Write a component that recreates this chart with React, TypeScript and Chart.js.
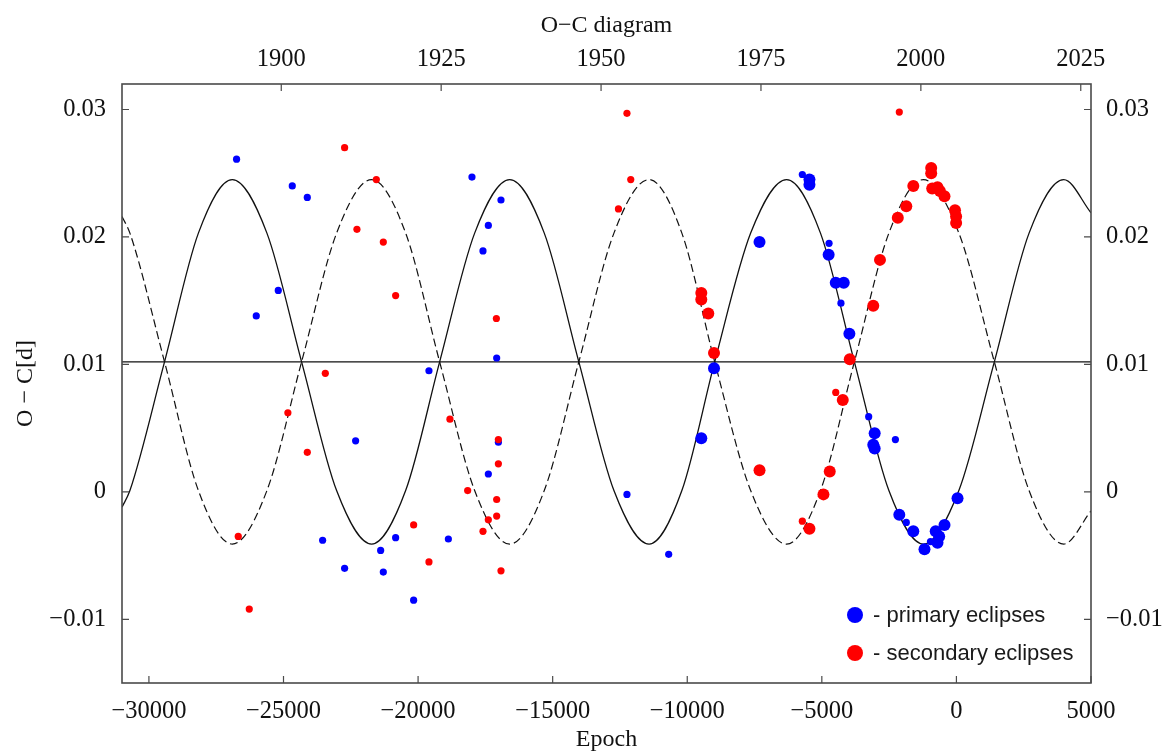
import React, { useEffect, useRef } from 'react';
import { Chart, registerables } from 'chart.js';

Chart.register(...registerables);

// ---------------- data ----------------
const epochTicks = [-30000, -25000, -20000, -15000, -10000, -5000, 0, 5000];
const yearTicks = [1900, 1925, 1950, 1975, 2000, 2025];
const ocTicks = [-0.01, 0, 0.01, 0.02, 0.03];
const epochRange = [-31000, 5000];
const yearRange = [1875.1, 2026.6];
const ocRange = [-0.015, 0.032];

// primary eclipses, small markers
const primarySmallEpoch = [
  -26744, -26012, -25194, -24674, -24116, -19596, -17998, -17589, -17390, -16920,
  -17080, -22321, -23547, -22730, -21391, -21292, -20834, -20165, -18875, -17390,
  -17017, -12240, -10690, -5724, -4732, -4290, -3260, -2267, -1862, -963,
];
const primarySmallOC = [
  0.0261, 0.0138, 0.0158, 0.024, 0.0231, 0.0095, 0.0247, 0.0189, 0.0209, 0.0229,
  0.0105, 0.004, -0.0038, -0.006, -0.0046, -0.0063, -0.0036, -0.0085, -0.0037, 0.0014,
  0.0039, -0.0002, -0.0049, 0.0249, 0.0195, 0.0148, 0.0059, 0.0041, -0.0024, -0.0039,
];
// primary eclipses, large markers
const primaryLargeEpoch = [
  -9006, -9478, -7315, -5460, -5460, -4747, -4483, -4186, -3977, -3037,
  -3089, -3037, -2122, -1602, -1186, -769, -443, -640, -703, 41,
];
const primaryLargeOC = [
  0.0097, 0.0042, 0.0196, 0.0245, 0.0241, 0.0186, 0.0164, 0.0164, 0.0124, 0.0046,
  0.0037, 0.0034, -0.0018, -0.0031, -0.0045, -0.0031, -0.0026, -0.0035, -0.004, -0.0005,
];
// secondary eclipses, small markers
const secondarySmallEpoch = [
  -22730, -21552, -22272, -21292, -20834, -17091, -23447, -24837, -24116, -26681,
  -26272, -20165, -19596, -18816, -18158, -17589, -17390, -17080, -17080, -17017,
  -17017, -16920, -12240, -12099, -12556, -2122, -4483, -5724,
];
const secondarySmallOC = [
  0.027, 0.0245, 0.0206, 0.0196, 0.0154, 0.0136, 0.0093, 0.0062, 0.0031, -0.0035,
  -0.0092, -0.0026, -0.0055, 0.0057, 0.0001, -0.0031, -0.0022, -0.0019, -0.0006, 0.0022,
  0.0041, -0.0062, 0.0297, 0.0245, 0.0222, 0.0298, 0.0078, -0.0023,
];
// secondary eclipses, large markers
const secondaryLargeEpoch = [
  -9478, -9478, -9218, -9006, -3962, -4222, -3089, -2840, -2178, -1862,
  -1602, -937, -937, -900, -703, -614, -443, -52, -11, -11,
  -7315, -4706, -4940, -5460,
];
const secondaryLargeOC = [
  0.0156, 0.0151, 0.014, 0.0109, 0.0104, 0.0072, 0.0146, 0.0182, 0.0215, 0.0224,
  0.024, 0.0254, 0.025, 0.0238, 0.0239, 0.0236, 0.0232, 0.0221, 0.0216, 0.0211,
  0.0017, 0.0016, -0.0002, -0.0029,
];

// model curves
const curveEpoch = [
  -31000, -30706, -29420, -28162, -26904, -25616, -24328, -23027, -21726, -20462,
  -19199, -17898, -16596, -15312, -14028, -12724, -11419, -10200, -8980, -7644,
  -6308, -5050, -3791, -2509, -1227, 91, 1409, 2699, 3988, 5000,
];
const solidCurveOC = [
  -0.0012, 0.0001, 0.0102, 0.0203, 0.0245, 0.0203, 0.0102, 0.0001, -0.0041, 0.0001,
  0.0102, 0.0203, 0.0245, 0.0203, 0.0102, 0.0001, -0.0041, 0.0001, 0.0102, 0.0203,
  0.0245, 0.0203, 0.0102, 0.0001, -0.0041, 0.0001, 0.0102, 0.0203, 0.0245, 0.0219,
];
const dashedCurveOC = [
  0.0216, 0.0203, 0.0102, 0.0001, -0.0041, 0.0001, 0.0102, 0.0203, 0.0245, 0.0203,
  0.0102, 0.0001, -0.0041, 0.0001, 0.0102, 0.0203, 0.0245, 0.0203, 0.0102, 0.0001,
  -0.0041, 0.0001, 0.0102, 0.0203, 0.0245, 0.0203, 0.0102, 0.0001, -0.0041, -0.0015,
];
const meanLevelEpoch = [-31000, 5000];
const meanLevelOC = [0.0102, 0.0102];

const legendLabels = ['- primary eclipses', '- secondary eclipses'];

// ---------------- styles ----------------
const W = 1168;
const H = 751;
const BLUE = '#0000ff';
const RED = '#ff0000';
const INK = '#111111';
const FRAME = '#4a4a4a';
const SERIF = '"Liberation Serif", "Times New Roman", serif';
const SANS = '"Liberation Sans", Arial, sans-serif';
const SMALL_R = 3.6;
const LARGE_R = 6;

const pts = (xs: number[], ys: number[]) => xs.map((x, i) => ({ x, y: ys[i] }));
const fmt = (v: number) => String(v).replace('-', '\u2212');

const setTicks = (values: number[]) => (scale: any) => {
  scale.ticks = values.map((value) => ({ value }));
};

const tickFont = { family: SERIF, size: 24.5, lineHeight: 1 };
const titleFont = { family: SERIF, size: 24, lineHeight: 1 };

const framePlugin = {
  id: 'frameAndLegend',
  afterDraw(chart: any) {
    const { ctx, chartArea, scales } = chart;
    const { left, right, top, bottom } = chartArea;
    const TL = 7;
    ctx.save();
    ctx.strokeStyle = FRAME;
    ctx.lineWidth = 1.2;
    ctx.beginPath();
    scales.x.ticks.forEach((t: any) => {
      const p = scales.x.getPixelForValue(t.value);
      ctx.moveTo(p, bottom);
      ctx.lineTo(p, bottom - TL);
    });
    scales.xTop.ticks.forEach((t: any) => {
      const p = scales.xTop.getPixelForValue(t.value);
      ctx.moveTo(p, top);
      ctx.lineTo(p, top + TL);
    });
    scales.y.ticks.forEach((t: any) => {
      const p = scales.y.getPixelForValue(t.value);
      ctx.moveTo(left, p);
      ctx.lineTo(left + TL, p);
    });
    scales.yRight.ticks.forEach((t: any) => {
      const p = scales.yRight.getPixelForValue(t.value);
      ctx.moveTo(right, p);
      ctx.lineTo(right - TL, p);
    });
    ctx.stroke();
    ctx.lineWidth = 1.6;
    ctx.strokeRect(left, top, right - left, bottom - top);

    // legend
    const colors = [BLUE, RED];
    const mx = right - 236;
    const rows = [bottom - 68, bottom - 30];
    ctx.font = `22px ${SANS}`;
    ctx.textBaseline = 'middle';
    ctx.textAlign = 'left';
    legendLabels.forEach((label, i) => {
      ctx.fillStyle = colors[i];
      ctx.beginPath();
      ctx.arc(mx, rows[i], 8, 0, Math.PI * 2);
      ctx.fill();
      ctx.fillStyle = '#1a1a1a';
      ctx.fillText(label, mx + 18, rows[i] + 1);
    });
    ctx.restore();
  },
};

export default function App() {
  const ref = useRef<HTMLCanvasElement>(null);

  useEffect(() => {
    const canvas = ref.current;
    if (!canvas) return;
    const pointSet = (data: any[], color: string, r: number) => ({
      data,
      showLine: false,
      pointRadius: r,
      pointHoverRadius: r,
      pointBorderWidth: 0,
      pointBackgroundColor: color,
      pointBorderColor: color,
      order: 0,
    });
    const curve = (data: any[], dash: number[], width: number) => ({
      data,
      showLine: true,
      pointRadius: 0,
      borderColor: INK,
      borderWidth: width,
      borderDash: dash,
      cubicInterpolationMode: 'monotone',
      fill: false,
      order: 1,
    });

    const chart = new Chart(canvas, {
      type: 'scatter',
      data: {
        datasets: [
          pointSet(pts(secondarySmallEpoch, secondarySmallOC), RED, SMALL_R),
          pointSet(pts(secondaryLargeEpoch, secondaryLargeOC), RED, LARGE_R),
          pointSet(pts(primarySmallEpoch, primarySmallOC), BLUE, SMALL_R),
          pointSet(pts(primaryLargeEpoch, primaryLargeOC), BLUE, LARGE_R),
          curve(pts(curveEpoch, solidCurveOC), [], 1.3),
          curve(pts(curveEpoch, dashedCurveOC), [8, 4], 1.2),
          curve(pts(meanLevelEpoch, meanLevelOC), [], 1.3),
        ] as any,
      },
      options: {
        animation: false,
        responsive: false,
        maintainAspectRatio: false,
        devicePixelRatio: 1,
        layout: { padding: 0 },
        events: [],
        plugins: {
          legend: { display: false },
          tooltip: { enabled: false },
          title: { display: false },
        },
        scales: {
          x: {
            type: 'linear',
            position: 'bottom',
            min: epochRange[0],
            max: epochRange[1],
            afterBuildTicks: setTicks(epochTicks),
            afterFit: (s: any) => { s.height = 68; },
            grid: { display: false, drawTicks: false },
            border: { display: false },
            ticks: { font: tickFont, color: INK, padding: 16, maxRotation: 0, autoSkip: false, callback: (v: any) => fmt(v) },
            title: { display: true, text: 'Epoch', font: titleFont, color: INK, padding: { top: 0, bottom: -1 } },
          },
          xTop: {
            type: 'linear',
            position: 'top',
            display: true,
            min: yearRange[0],
            max: yearRange[1],
            afterBuildTicks: setTicks(yearTicks),
            afterFit: (s: any) => { s.height = 84; },
            grid: { display: false, drawTicks: false },
            border: { display: false },
            ticks: { font: tickFont, color: INK, padding: 12, maxRotation: 0, autoSkip: false, callback: (v: any) => String(v) },
            title: { display: true, text: 'O\u2212C diagram', font: titleFont, color: INK, padding: { top: 14, bottom: 0 } },
          },
          y: {
            type: 'linear',
            position: 'left',
            min: ocRange[0],
            max: ocRange[1],
            afterBuildTicks: setTicks(ocTicks),
            afterFit: (s: any) => { s.width = 122; },
            grid: { display: false, drawTicks: false },
            border: { display: false },
            ticks: { font: tickFont, color: INK, padding: 16, autoSkip: false, callback: (v: any) => fmt(v) },
            title: { display: true, text: 'O \u2212 C[d]', font: titleFont, color: INK, padding: { top: 14, bottom: 0 } },
          },
          yRight: {
            type: 'linear',
            position: 'right',
            display: true,
            min: ocRange[0],
            max: ocRange[1],
            afterBuildTicks: setTicks(ocTicks),
            afterFit: (s: any) => { s.width = 77; },
            grid: { display: false, drawTicks: false },
            border: { display: false },
            ticks: { font: tickFont, color: INK, padding: 15, autoSkip: false, callback: (v: any) => fmt(v) },
          },
        },
      } as any,
      plugins: [framePlugin],
    });
    return () => chart.destroy();
  }, []);

  return (
    <div style={{ position: 'fixed', left: 0, top: 0, width: W, height: H, background: '#ffffff' }}>
      <canvas ref={ref} width={W} height={H} style={{ display: 'block', width: W, height: H }} />
    </div>
  );
}
